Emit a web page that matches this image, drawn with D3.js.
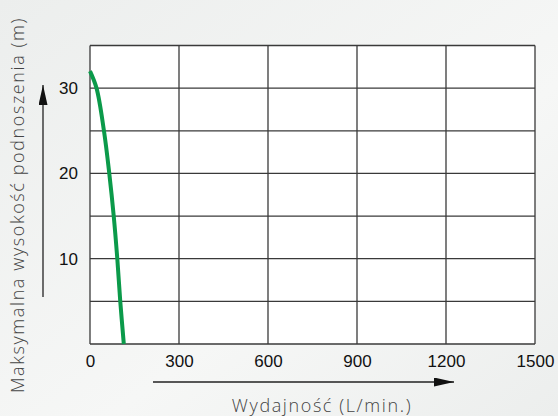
<!DOCTYPE html>
<html>
<head>
<meta charset="utf-8">
<script src="https://cdn.jsdelivr.net/npm/d3@7"></script>
<style>
	body { margin: 0; background: #eef0ef; }
	svg { display: block; }
	.tick text { font-family: "Liberation Sans", Arial, sans-serif; font-size: 17px; fill: #111; }
	.axis-label { font-family: "Open Sans", sans-serif; font-weight: 300; font-size: 18px; letter-spacing: 1.6px; fill: #444; }
</style>
</head>
<body>
<svg></svg>
<script>
const SVGsize = { w: 558, h: 416 };
const margins = { t: 45.5, r: 23, b: 72, l: 90 };
const size = {
	w: SVGsize.w - margins.l - margins.r,
	h: SVGsize.h - margins.t - margins.b,
};

// tick values
const xTicks = [0, 300, 600, 900, 1200, 1500];
const yGrid = [0, 5, 10, 15, 20, 25, 30, 35];
const yTicks = [10, 20, 30];

// pump curve
const flow = [0, 22, 47, 65, 80, 92, 102, 114];
const head = [32, 30, 25, 20, 15, 10, 5, 0];

const svg = d3.select("svg").attr("width", SVGsize.w).attr("height", SVGsize.h);

const defs = svg.append("defs");
const grad = defs.append("linearGradient").attr("id", "bg").attr("x1", 0).attr("y1", 0).attr("x2", 1).attr("y2", 1);
grad.append("stop").attr("offset", "0%").attr("stop-color", "#eceeed");
grad.append("stop").attr("offset", "60%").attr("stop-color", "#f6f7f6");
grad.append("stop").attr("offset", "100%").attr("stop-color", "#eceeed");
svg.append("rect").attr("width", SVGsize.w).attr("height", SVGsize.h).attr("fill", "url(#bg)");

const containerG = svg.append("g").attr("transform", `translate(${margins.l}, ${margins.t})`);

const scaleX = d3.scaleLinear().domain([0, 1500]).range([0, size.w]);
const scaleY = d3.scaleLinear().domain([0, 35]).range([size.h, 0]);

containerG.append("rect").attr("width", size.w).attr("height", size.h).attr("fill", "#fff");

// grid
containerG.selectAll(".vgrid").data(xTicks).join("line")
	.attr("x1", (d) => scaleX(d)).attr("x2", (d) => scaleX(d))
	.attr("y1", 0).attr("y2", size.h)
	.attr("stroke", "#3a3a3a").attr("stroke-width", 1.3);
containerG.selectAll(".hgrid").data(yGrid).join("line")
	.attr("x1", 0).attr("x2", size.w)
	.attr("y1", (d) => scaleY(d)).attr("y2", (d) => scaleY(d))
	.attr("stroke", "#3a3a3a").attr("stroke-width", 1.3);

const axisX = d3.axisBottom(scaleX).tickValues(xTicks).tickSize(0).tickPadding(11).tickFormat((d) => d);
containerG.append("g").attr("transform", `translate(0, ${size.h})`).call(axisX)
	.call((g) => g.select(".domain").remove());

const axisY = d3.axisLeft(scaleY).tickValues(yTicks).tickSize(0).tickPadding(12);
containerG.append("g").call(axisY).call((g) => g.select(".domain").remove());

// curve
const pts = flow.map((f, i) => [f, head[i]]);
containerG.append("path").datum(pts)
	.attr("d", d3.line().curve(d3.curveCatmullRom).x((d) => scaleX(d[0])).y((d) => scaleY(d[1])))
	.attr("fill", "none")
	.attr("stroke", "#0b9a4a")
	.attr("stroke-width", 4);

// arrows
defs.append("marker").attr("id", "arrow")
	.attr("viewBox", "0 0 20 9").attr("refX", 20).attr("refY", 4.5)
	.attr("markerWidth", 20).attr("markerHeight", 9)
	.attr("markerUnits", "userSpaceOnUse").attr("orient", "auto")
	.append("path").attr("d", "M0,0 L20,4.5 L0,9 Z").attr("fill", "#111");

svg.append("line").attr("x1", 153).attr("x2", 454).attr("y1", 382).attr("y2", 382)
	.attr("stroke", "#222").attr("stroke-width", 1.3).attr("marker-end", "url(#arrow)");
svg.append("line").attr("x1", 43).attr("x2", 43).attr("y1", 297).attr("y2", 85)
	.attr("stroke", "#222").attr("stroke-width", 1.3).attr("marker-end", "url(#arrow)");

svg.append("text").attr("class", "axis-label")
	.attr("x", 322).attr("y", 412).attr("text-anchor", "middle")
	.text("Wydajność (L/min.)");
svg.append("text").attr("class", "axis-label")
	.attr("transform", "rotate(-90)")
	.attr("x", -205).attr("y", 24).attr("text-anchor", "middle")
	.text("Maksymalna wysokość podnoszenia (m)");
</script>
</body>
</html>
